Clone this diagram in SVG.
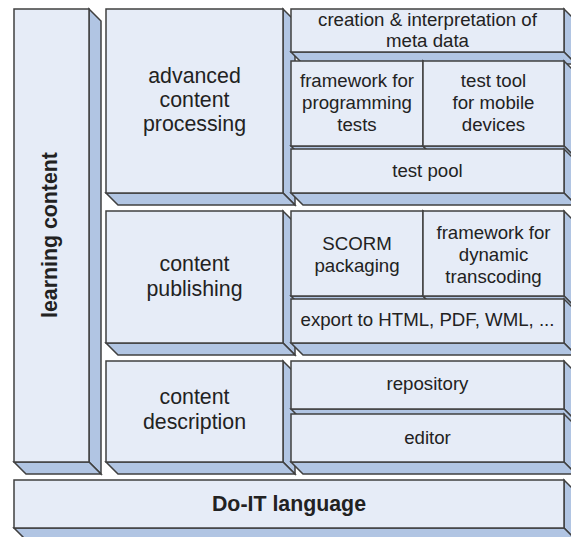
<svg xmlns="http://www.w3.org/2000/svg" width="571" height="537" viewBox="0 0 571 537">
<style>
.f{fill:#E6ECF7;stroke:#404040;stroke-width:1.5}
.s{fill:#B1C5E3;stroke:#404040;stroke-width:1.5;stroke-linejoin:miter}
text{font-family:"Liberation Sans",Arial,sans-serif;fill:#222;text-anchor:middle}
.L{font-size:21.33px}
.R{font-size:18.67px}
.B{font-size:21.33px;font-weight:bold}
</style>
<rect width="571" height="537" fill="#fff"/>
<g id="learning-content">
<path class="s" d="M89,9 l12,12 v453 l-12,-12 z"/><path class="s" d="M14,462 h75 l12,12 h-75 z"/>
<rect class="f" x="14" y="9" width="75" height="453"/>
<text class="B" transform="translate(57,235) rotate(-90)">learning content</text>
</g>
<g id="advanced-content-processing">
<path class="s" d="M283,9 l12,12 v184 l-12,-12 z"/><path class="s" d="M106,193 h177 l12,12 h-177 z"/>
<rect class="f" x="106" y="9" width="177" height="184"/>
<text class="L" x="194.5" y="83">advanced</text><text class="L" x="194.5" y="107">content</text><text class="L" x="194.5" y="131">processing</text>
</g>
<g id="meta-data">
<path class="s" d="M564,9 l12,12 v43 l-12,-12 z"/><path class="s" d="M291,52 h273 l12,12 h-273 z"/>
<rect class="f" x="291" y="9" width="273" height="43"/>
<text class="R" x="427.5" y="26">creation &amp; interpretation of</text><text class="R" x="427.5" y="47">meta data</text>
</g>
<g id="framework-programming-tests">
<path class="s" d="M423,61 l12,12 v85 l-12,-12 z"/><path class="s" d="M291,146 h132 l12,12 h-132 z"/>
<rect class="f" x="291" y="61" width="132" height="85"/>
<text class="R" x="357" y="87">framework for</text><text class="R" x="357" y="109">programming</text><text class="R" x="357" y="131">tests</text>
</g>
<g id="test-tool-mobile">
<path class="s" d="M564,61 l12,12 v85 l-12,-12 z"/><path class="s" d="M423,146 h141 l12,12 h-141 z"/>
<rect class="f" x="423" y="61" width="141" height="85"/>
<text class="R" x="493.5" y="87">test tool</text><text class="R" x="493.5" y="109">for mobile</text><text class="R" x="493.5" y="131">devices</text>
</g>
<g id="test-pool">
<path class="s" d="M564,149 l12,12 v44 l-12,-12 z"/><path class="s" d="M291,193 h273 l12,12 h-273 z"/>
<rect class="f" x="291" y="149" width="273" height="44"/>
<text class="R" x="427.5" y="177">test pool</text>
</g>
<g id="content-publishing">
<path class="s" d="M283,211 l12,12 v132 l-12,-12 z"/><path class="s" d="M106,343 h177 l12,12 h-177 z"/>
<rect class="f" x="106" y="211" width="177" height="132"/>
<text class="L" x="194.5" y="271">content</text><text class="L" x="194.5" y="296">publishing</text>
</g>
<g id="scorm-packaging">
<path class="s" d="M423,211 l12,12 v85 l-12,-12 z"/><path class="s" d="M291,296 h132 l12,12 h-132 z"/>
<rect class="f" x="291" y="211" width="132" height="85"/>
<text class="R" x="357" y="250">SCORM</text><text class="R" x="357" y="272">packaging</text>
</g>
<g id="dynamic-transcoding">
<path class="s" d="M564,211 l12,12 v85 l-12,-12 z"/><path class="s" d="M423,296 h141 l12,12 h-141 z"/>
<rect class="f" x="423" y="211" width="141" height="85"/>
<text class="R" x="493.5" y="239">framework for</text><text class="R" x="493.5" y="261">dynamic</text><text class="R" x="493.5" y="283">transcoding</text>
</g>
<g id="export">
<path class="s" d="M564,299 l12,12 v44 l-12,-12 z"/><path class="s" d="M291,343 h273 l12,12 h-273 z"/>
<rect class="f" x="291" y="299" width="273" height="44"/>
<text class="R" x="427.5" y="326">export to HTML, PDF, WML, ...</text>
</g>
<g id="content-description">
<path class="s" d="M283,361 l12,12 v101 l-12,-12 z"/><path class="s" d="M106,462 h177 l12,12 h-177 z"/>
<rect class="f" x="106" y="361" width="177" height="101"/>
<text class="L" x="194.5" y="404">content</text><text class="L" x="194.5" y="429">description</text>
</g>
<g id="repository">
<path class="s" d="M564,361 l12,12 v48 l-12,-12 z"/><path class="s" d="M291,409 h273 l12,12 h-273 z"/>
<rect class="f" x="291" y="361" width="273" height="48"/>
<text class="R" x="427.5" y="390">repository</text>
</g>
<g id="editor">
<path class="s" d="M564,414 l12,12 v48 l-12,-12 z"/><path class="s" d="M291,462 h273 l12,12 h-273 z"/>
<rect class="f" x="291" y="414" width="273" height="48"/>
<text class="R" x="427.5" y="444">editor</text>
</g>
<g id="do-it-language">
<path class="s" d="M564,480 l12,12 v48 l-12,-12 z"/><path class="s" d="M14,528 h550 l12,12 h-550 z"/>
<rect class="f" x="14" y="480" width="550" height="48"/>
<text class="B" x="289" y="511">Do-IT language</text>
</g>
<g id="connectors"/>
</svg>
